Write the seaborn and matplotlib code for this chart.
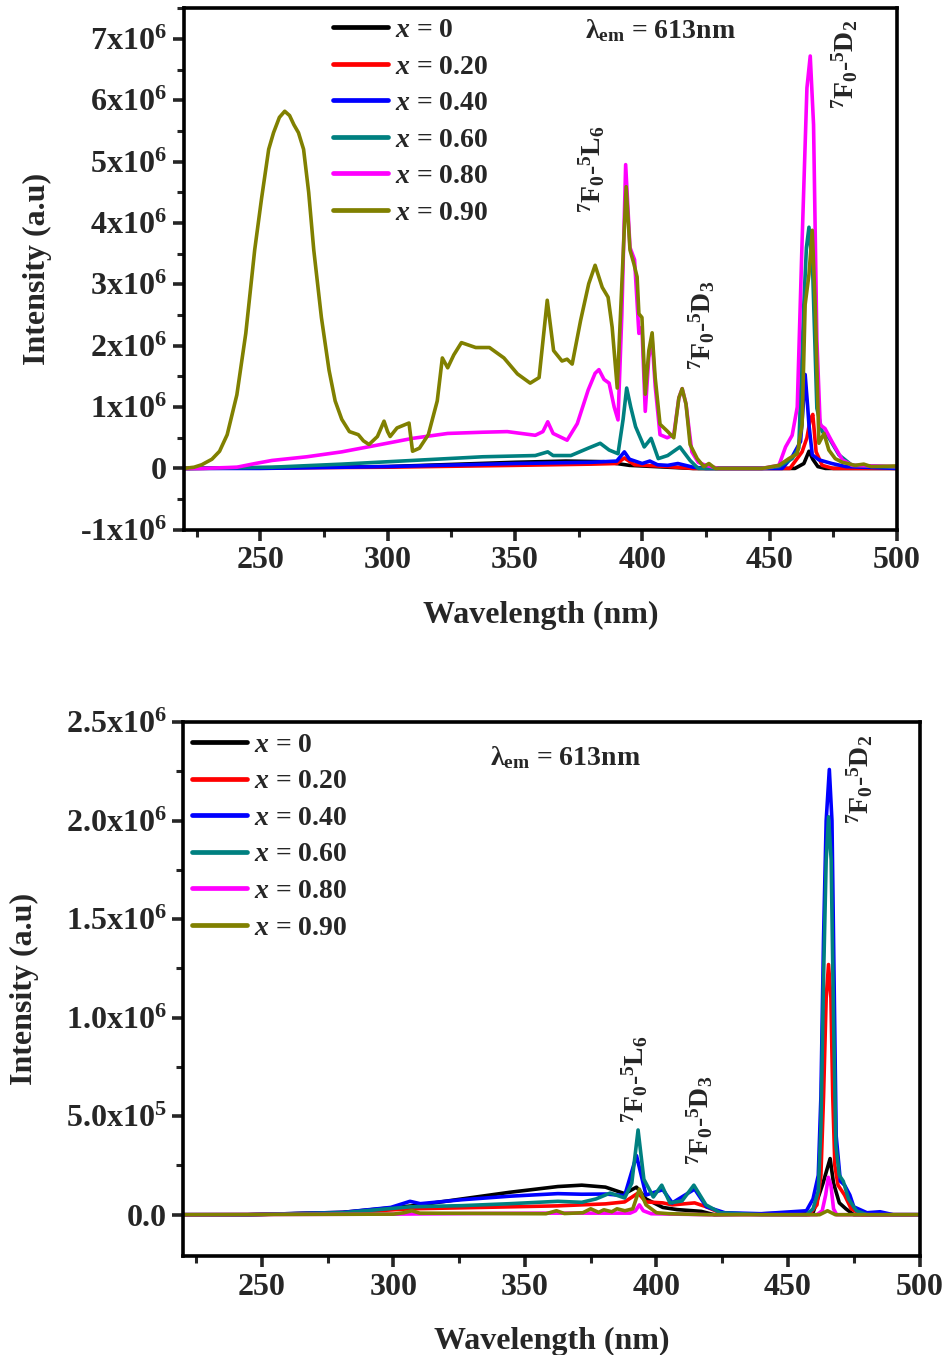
import matplotlib
matplotlib.use("Agg")
import matplotlib.pyplot as plt
from matplotlib.lines import Line2D
from matplotlib.ticker import FixedLocator, MultipleLocator
import pandas as pd
import seaborn as sns

# ---------------------------------------------------------------------------
# Excitation spectra (lambda_em = 613 nm); intensities in units of 1e6 a.u.
# ---------------------------------------------------------------------------
series_keys = ["0", "0.20", "0.40", "0.60", "0.80", "0.90"]
series_colors = ["#000000", "#ff0000", "#0000ff", "#008080", "#ff00ff", "#808000"]

# ---- upper panel ----
top_wl_x000 = [220, 300, 350, 370, 385, 395, 410, 420, 460, 463.5, 465.5, 467, 469, 472, 500]
top_in_x000 = [0, 0.03, 0.10, 0.12, 0.11, 0.05, 0.02, 0, 0, 0.08, 0.28, 0.15, 0.03, 0, 0]

top_wl_x020 = [220, 300, 350, 380, 390, 393, 397, 410, 420, 458, 462.8, 464.7, 466, 467, 468.3, 470.7, 475, 500]
top_in_x020 = [0, 0.02, 0.05, 0.07, 0.08, 0.17, 0.06, 0.03, 0, 0, 0.27, 0.50, 0.80, 0.88, 0.27, 0.05, 0, 0]

top_wl_x040 = [220, 250, 300, 350, 380, 390, 393, 395, 400, 403, 406, 410, 414, 420, 425, 455,
               458.9, 462.2, 463.2, 464, 465, 465.5, 466.8, 469.4, 474.5, 480, 500]
top_in_x040 = [0, 0, 0.03, 0.08, 0.10, 0.12, 0.27, 0.15, 0.08, 0.12, 0.06, 0.05, 0.08, 0.02, 0, 0,
               0.19, 0.44, 1.00, 1.53, 1.00, 0.71, 0.22, 0.14, 0.08, 0.03, 0]

top_wl_x060 = [220, 254.6, 282, 309.8, 337.4, 358, 362.9, 365, 372, 378.8, 383.5, 387, 390.5, 392.5,
               393.9, 395.5, 397.4, 400.8, 403.5, 406.3, 410, 414.8, 418.8, 422, 447, 453.7, 458.9,
               461.5, 463.4, 464.5, 465.5, 467, 468.6, 470.7, 473.3, 477.3, 482.4, 500]
top_in_x060 = [0, 0.02, 0.07, 0.13, 0.19, 0.21, 0.27, 0.21, 0.21, 0.33, 0.41, 0.30, 0.24, 0.80,
               1.31, 1.00, 0.68, 0.35, 0.49, 0.16, 0.21, 0.35, 0.13, 0, 0, 0.03, 0.16,
               0.33, 2.60, 3.60, 3.93, 3.16, 0.98, 0.60, 0.50, 0.22, 0.05, 0.02]

top_wl_x080 = [220, 227, 240.8, 248, 254.6, 268.3, 282, 296, 309.8, 323.6, 337.4, 347, 358, 361,
               362.9, 365, 370.5, 374.5, 378.8, 381.5, 383, 385, 387, 389, 390.5, 392, 393.5,
               395.2, 397, 398.7, 399.9, 401.2, 402.6, 403.9, 405.1, 407, 409.8, 412.4, 414.4,
               415.7, 417.2, 419.5, 422, 425, 430, 447, 453.7, 456.3, 458.9, 460.9, 462.8,
               464.7, 466, 467.3, 468.6, 469.9, 471.8, 474.5, 478.6, 482.4, 500]
top_in_x080 = [0, 0, 0.02, 0.08, 0.13, 0.19, 0.27, 0.38, 0.49, 0.57, 0.59, 0.60, 0.54, 0.60,
               0.76, 0.57, 0.46, 0.73, 1.28, 1.55, 1.61, 1.45, 1.39, 1.00, 0.79, 2.50, 4.95,
               3.60, 3.40, 2.20, 2.30, 0.93, 1.81, 2.10, 1.34, 0.55, 0.50, 0.55, 1.15,
               1.30, 1.05, 0.27, 0.10, 0.05, 0, 0, 0.05, 0.35, 0.54, 1.00, 3.70,
               6.20, 6.72, 5.60, 2.10, 0.71, 0.65, 0.44, 0.14, 0.05, 0.03]

top_wl_x090 = [220, 224, 227, 231, 234, 237, 240.8, 244.3, 247.8, 250.5, 253.3, 255.2, 257.5,
               259.6, 261.5, 263.2, 265, 267, 269, 271, 274, 277, 279.4, 282, 285, 288.5, 290.5,
               292.7, 296, 298.6, 300, 301, 303.7, 308.4, 309.8, 312.5, 316, 319.5, 321.5,
               323.6, 326, 329, 334.6, 340, 345.7, 351, 356, 359.5, 362.7, 365.2, 368.5, 370.5,
               372.5, 375.8, 379, 381.5, 384.3, 386.6, 388.2, 390.2, 392, 393.7, 395.2, 396.7,
               398, 398.7, 399.9, 401.2, 402.6, 403.9, 405.1, 407, 409.8, 412.4, 414.4, 415.7,
               417.2, 418.8, 421.6, 424.2, 426.2, 428.7, 447, 453.7, 457.6, 460.9, 462.8, 464,
               465.5, 466.8, 468, 469.4, 471.4, 473.3, 475.8, 478.6, 483.6, 487, 490, 500]
top_in_x090 = [0, 0.02, 0.06, 0.15, 0.28, 0.55, 1.20, 2.20, 3.56, 4.40, 5.20, 5.47, 5.72,
               5.82, 5.75, 5.60, 5.47, 5.20, 4.50, 3.56, 2.46, 1.60, 1.10, 0.80, 0.60, 0.55, 0.45,
               0.39, 0.52, 0.77, 0.60, 0.52, 0.66, 0.74, 0.28, 0.33, 0.55, 1.10, 1.80,
               1.64, 1.85, 2.05, 1.97, 1.97, 1.80, 1.54, 1.39, 1.48, 2.74, 1.92, 1.75, 1.78,
               1.70, 2.41, 3.01, 3.31, 2.95, 2.79, 2.30, 1.31, 3.00, 4.59, 3.56, 3.34,
               3.12, 2.52, 2.46, 1.21, 1.92, 2.21, 1.48, 0.72, 0.61, 0.50, 1.15, 1.30,
               1.05, 0.39, 0.16, 0.03, 0.08, 0, 0, 0.05, 0.16, 0.24, 0.71, 2.67,
               3.16, 3.88, 2.60, 0.41, 0.57, 0.30, 0.16, 0.10, 0.05, 0.07, 0.03, 0.04]

# ---- lower panel ----
bot_wl_x000 = [220, 244.6, 280.8, 308, 326, 344.3, 362.5, 371.6, 380.6, 387.9, 392.4, 396, 402.4,
               407.8, 417, 422, 459.5, 463.3, 466, 467.3, 469.5, 472, 475, 500]
bot_in_x000 = [0, 0, 0.012, 0.046, 0.080, 0.114, 0.143, 0.150, 0.140, 0.107, 0.140, 0.080, 0.037,
               0.026, 0.017, 0, 0.01, 0.16, 0.285, 0.16, 0.06, 0.03, 0, 0]

bot_wl_x020 = [220, 245, 280.8, 306.3, 326, 344.3, 362.5, 380.6, 387.9, 393, 396, 402.4, 406, 414.5,
               419, 425, 458, 461, 462.5, 463.5, 464.5, 465.4, 466.3, 467, 467.8, 469, 471.5,
               474, 478, 500]
bot_in_x020 = [0, 0, 0.010, 0.030, 0.035, 0.040, 0.045, 0.055, 0.065, 0.110, 0.065, 0.060, 0.050, 0.060,
               0.040, 0.005, 0, 0.05, 0.20, 0.60, 1.10, 1.27, 1.10, 0.60, 0.25, 0.15, 0.10,
               0.03, 0, 0]

bot_wl_x040 = [220, 244.6, 280.8, 299, 306.3, 310.2, 326, 344.3, 362.5, 371.6, 380.6, 387.9, 392.4,
               396, 402.4, 406, 414.5, 419, 426, 440, 457, 459.5, 461.5, 462.5, 463.5, 464.5,
               465.7, 466.7, 467.5, 468.3, 469.9, 471.5, 473.5, 475, 480, 485, 490, 500]
bot_in_x040 = [0, 0, 0.012, 0.037, 0.068, 0.056, 0.076, 0.094, 0.107, 0.104, 0.105, 0.097, 0.300,
               0.100, 0.127, 0.060, 0.130, 0.040, 0.010, 0.005, 0.02, 0.08, 0.20, 0.60, 1.40, 2.00,
               2.26, 2.00, 1.20, 0.40, 0.17, 0.15, 0.10, 0.04, 0.01, 0.015, 0, 0]

bot_wl_x060 = [220, 244.6, 280.8, 306.3, 326, 344.3, 362.5, 371.6, 377, 382.4, 387.9, 390.6, 393,
               395.2, 398.8, 402, 405.1, 409.7, 414.2, 418.8, 424.2, 440, 457, 459.5, 461.5,
               462.5, 463.5, 464.5, 465.4, 466.4, 467.3, 468.2, 469.5, 471, 473, 476, 480, 500]
bot_in_x060 = [0, 0, 0.010, 0.040, 0.046, 0.056, 0.068, 0.063, 0.080, 0.110, 0.085, 0.160, 0.430,
               0.180, 0.090, 0.150, 0.060, 0.070, 0.150, 0.050, 0.010, 0, 0, 0.03, 0.12,
               0.45, 1.20, 1.80, 2.02, 1.80, 1.00, 0.35, 0.20, 0.17, 0.08, 0.02, 0, 0]

bot_wl_x080 = [220, 300, 330, 360, 390, 392, 393.5, 395, 398, 420, 461, 463, 464.3, 465.3, 466.3,
               467.3, 468.5, 500]
bot_in_x080 = [0, 0.003, 0.006, 0.008, 0.008, 0.02, 0.05, 0.02, 0.005, 0, 0, 0.02, 0.10, 0.19, 0.15,
               0.03, 0, 0]

bot_wl_x090 = [220, 300, 304, 307, 310, 358, 362, 365, 372, 375, 378, 380, 383, 385, 388, 391,
               393.5, 396, 400, 405, 420, 462, 465, 468, 500]
bot_in_x090 = [0, 0.003, 0.010, 0.020, 0.008, 0.005, 0.020, 0.006, 0.010, 0.030, 0.012, 0.025, 0.015,
               0.030, 0.020, 0.030, 0.130, 0.050, 0.010, 0.005, 0, 0, 0.020, 0, 0]

top_series = [(top_wl_x000, top_in_x000), (top_wl_x020, top_in_x020), (top_wl_x040, top_in_x040),
              (top_wl_x060, top_in_x060), (top_wl_x080, top_in_x080), (top_wl_x090, top_in_x090)]
bot_series = [(bot_wl_x000, bot_in_x000), (bot_wl_x020, bot_in_x020), (bot_wl_x040, bot_in_x040),
              (bot_wl_x060, bot_in_x060), (bot_wl_x080, bot_in_x080), (bot_wl_x090, bot_in_x090)]

# axis ticks and labels
x_ticks = [250, 300, 350, 400, 450, 500]
top_y_ticks = [-1e6, 0, 1e6, 2e6, 3e6, 4e6, 5e6, 6e6, 7e6]
top_y_labels = ["-1x10$^{6}$", "0", "1x10$^{6}$", "2x10$^{6}$", "3x10$^{6}$", "4x10$^{6}$",
                "5x10$^{6}$", "6x10$^{6}$", "7x10$^{6}$"]
bot_y_ticks = [0, 0.5e6, 1.0e6, 1.5e6, 2.0e6, 2.5e6]
bot_y_labels = ["0.0", "5.0x10$^{5}$", "1.0x10$^{6}$", "1.5x10$^{6}$", "2.0x10$^{6}$", "2.5x10$^{6}$"]


def long_frame(series):
    parts = []
    for key, (wl, val) in zip(series_keys, series):
        parts.append(pd.DataFrame({"wavelength": wl,
                                   "intensity": [v * 1e6 for v in val],
                                   "x": key}))
    return pd.concat(parts, ignore_index=True)


sns.set_style("ticks")
plt.rcParams.update({
    "font.family": ["Liberation Serif", "DejaVu Serif"],
    "font.weight": "bold",
    "axes.labelweight": "bold",
    "mathtext.fontset": "custom",
    "mathtext.rm": "Liberation Serif:bold",
    "mathtext.it": "Liberation Serif:italic:bold",
    "mathtext.bf": "Liberation Serif:bold",
    "mathtext.default": "rm",
})

palette = dict(zip(series_keys, series_colors))

fig = plt.figure(figsize=(9.48, 13.55), dpi=100)
ax_top = fig.add_axes([0.194, 0.609, 0.752, 0.385])
ax_bot = fig.add_axes([0.193, 0.073, 0.777, 0.394])


def style_axes(ax, yticks, ylabels, ylim, yminor, ylabelpad):
    ax.set_xlim(220, 500)
    ax.set_ylim(*ylim)
    ax.xaxis.set_major_locator(FixedLocator(x_ticks))
    ax.set_xticklabels([str(t) for t in x_ticks])
    ax.xaxis.set_minor_locator(MultipleLocator(25))
    ax.yaxis.set_major_locator(FixedLocator(yticks))
    ax.set_yticklabels(ylabels)
    ax.yaxis.set_minor_locator(MultipleLocator(yminor))
    for sp in ax.spines.values():
        sp.set_linewidth(2.6)
        sp.set_color("black")
        sp.set_visible(True)
    ax.tick_params(which="major", direction="out", length=8, width=2.6, labelsize=23,
                   top=False, right=False, pad=4)
    ax.tick_params(which="minor", direction="out", length=5, width=2.2, top=False, right=False)
    ax.set_xlabel("Wavelength (nm)", fontsize=23, labelpad=18)
    ax.set_ylabel("Intensity (a.u)", fontsize=23, labelpad=ylabelpad)
    ax.set_facecolor("white")


def draw_panel(ax, series, leg_anchor):
    df = long_frame(series)
    sns.lineplot(data=df, x="wavelength", y="intensity", hue="x", hue_order=series_keys,
                 palette=palette, estimator=None, sort=False, linewidth=2.6, ax=ax, legend=False)
    handles = [Line2D([], [], color=c, lw=3.4) for c in series_colors]
    labels = [r"$\mathit{x}$ = " + k for k in series_keys]
    ax.legend(handles, labels, loc="upper left", bbox_to_anchor=leg_anchor, frameon=False,
              fontsize=20, handlelength=2.0, handletextpad=0.25, labelspacing=0.4, borderpad=0,
              borderaxespad=0)


draw_panel(ax_top, top_series, (0.209, 0.982))
style_axes(ax_top, top_y_ticks, top_y_labels, (-1e6, 7.5e6), 0.5e6, 20)

draw_panel(ax_bot, bot_series, (0.012, 0.981))
style_axes(ax_bot, bot_y_ticks, bot_y_labels, (-0.21e6, 2.5e6), 0.25e6, 19)

# annotations
em_label = r"$\lambda_{\mathbf{em}}$ = 613nm"
l6_label = r"$^{7}$F$_{0}$-$^{5}$L$_{6}$"
d3_label = r"$^{7}$F$_{0}$-$^{5}$D$_{3}$"
d2_label = r"$^{7}$F$_{0}$-$^{5}$D$_{2}$"

ax_top.text(377.6, 7.13e6, em_label, fontsize=20, ha="left", va="center")
ax_top.text(380.3, 4.87e6, l6_label, fontsize=20, rotation=90, ha="center", va="center")
ax_top.text(423.5, 2.33e6, d3_label, fontsize=20, rotation=90, ha="center", va="center")
ax_top.text(479.7, 6.59e6, d2_label, fontsize=20, rotation=90, ha="center", va="center")

ax_bot.text(336.7, 2.32e6, em_label, fontsize=20, ha="left", va="center")
ax_bot.text(391.9, 0.69e6, l6_label, fontsize=20, rotation=90, ha="center", va="center")
ax_bot.text(416.6, 0.48e6, d3_label, fontsize=20, rotation=90, ha="center", va="center")
ax_bot.text(477.4, 2.21e6, d2_label, fontsize=20, rotation=90, ha="center", va="center")

fig.savefig("out.png", dpi=100, facecolor="white")
